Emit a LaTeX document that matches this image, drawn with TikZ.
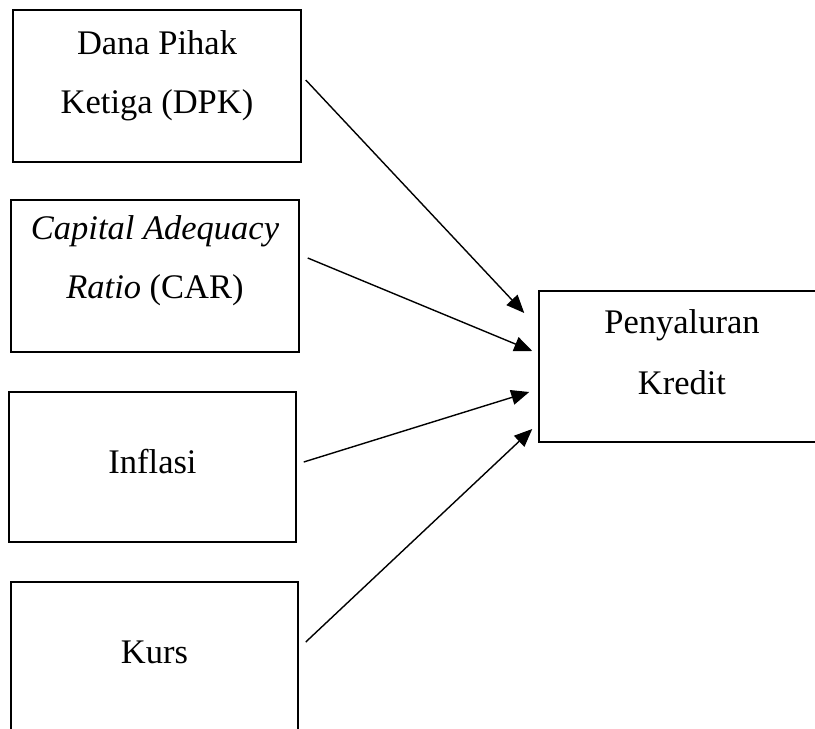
\documentclass[tikz,border=0pt]{standalone}
\usepackage{fontspec}
\setmainfont{Liberation Serif}
\usetikzlibrary{arrows.meta,calc}
\begin{document}
\begin{tikzpicture}[x=1pt,y=-1pt,
  box/.style={draw,line width=1.5pt,rectangle,inner sep=0pt},
  lbl/.style={anchor=base,inner sep=0pt,font=\fontsize{34.5}{40}\selectfont},
  arr/.style={line width=1.4pt,-{Triangle[length=18pt,width=15pt]}}]
\useasboundingbox (0,0) rectangle (815,729);
\clip (0,0) rectangle (815,729);
\node[box,minimum width=288pt,minimum height=152pt] (b1) at (157,86) {};
\node[box,minimum width=288pt,minimum height=152pt] (b2) at (155,276) {};
\node[box,minimum width=287pt,minimum height=150pt] (b3) at (152.5,467) {};
\node[box,minimum width=287pt,minimum height=152pt] (b4) at (154.5,658) {};
\node[box,minimum width=286pt,minimum height=151pt] (rb) at (682,366.5) {};
\node[lbl] (t1a) at (157,54) {Dana Pihak};
\node[lbl] (t1b) at (157,113) {Ketiga (DPK)};
\node[lbl] (t2a) at (155,239) {\itshape Capital Adequacy};
\node[lbl] (t2b) at (155,298) {\textit{Ratio} (CAR)};
\node[lbl] (t3) at (152.5,473) {Inflasi};
\node[lbl] (t4) at (154.5,663) {Kurs};
\node[lbl] (t5a) at (682,333) {Penyaluran};
\node[lbl] (t5b) at (682,394) {Kredit};
\draw[arr] ($(b1.east)+(4,-6)$) -- ($(rb.west)+(-14,-53.5)$);
\draw[arr] ($(b2.east)+(8,-18)$) -- ($(rb.west)+(-6,-15.5)$);
\draw[arr] ($(b3.east)+(7,-5)$) -- ($(rb.west)+(-9,25.5)$);
\draw[arr] ($(b4.east)+(7,-16)$) -- ($(rb.west)+(-6,62.5)$);
\end{tikzpicture}
\end{document}
